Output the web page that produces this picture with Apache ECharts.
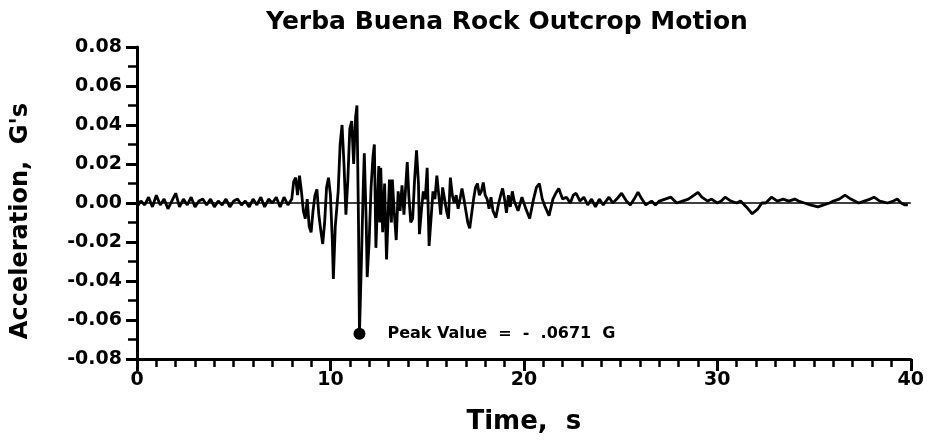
<!DOCTYPE html>
<html>
<head>
<meta charset="utf-8">
<script src="https://cdn.jsdelivr.net/npm/echarts@6/dist/echarts.min.js"></script>
<style>
  html, body { margin: 0; padding: 0; background: #fff; }
  #chart { width: 927px; height: 440px; }
</style>
</head>
<body>
<div id="chart"></div>
<script>
// time (s) and acceleration (G)
var times = [
  0, 0.2, 0.4, 0.6, 0.8, 1.0, 1.2, 1.4, 1.6, 1.8, 2.0, 2.2, 2.4, 2.6, 2.8, 3.0, 3.2, 3.4, 3.6, 3.8,
  4.0, 4.2, 4.4, 4.6, 4.8, 5.0, 5.2, 5.4, 5.6, 5.8, 6.0, 6.2, 6.4, 6.6, 6.8, 7.0, 7.2, 7.4, 7.6, 7.8,
  8.0, 8.1, 8.2, 8.3, 8.4, 8.5, 8.6, 8.7, 8.8, 8.9, 9.0, 9.1, 9.2, 9.3, 9.4, 9.5, 9.6, 9.7, 9.8, 9.9,
  10.0, 10.1, 10.15, 10.25, 10.4, 10.5, 10.6, 10.7, 10.8, 10.9, 11.0, 11.1, 11.2, 11.3, 11.37, 11.45, 11.5, 11.6, 11.7, 11.75,
  11.85, 11.9, 12.0, 12.1, 12.2, 12.27, 12.35, 12.45, 12.5, 12.55, 12.6, 12.7, 12.8, 12.9, 12.95, 13.05, 13.15, 13.2, 13.3, 13.4,
  13.5, 13.6, 13.7, 13.8, 13.9, 13.97, 14.05, 14.15, 14.25, 14.35, 14.45, 14.55, 14.6, 14.7, 14.8, 14.9, 15.0, 15.1, 15.2, 15.3,
  15.4, 15.5, 15.6, 15.7, 15.8, 15.9, 16.0, 16.1, 16.2, 16.3, 16.4, 16.5, 16.6, 16.7, 16.8, 16.9, 17.0, 17.1, 17.2, 17.3,
  17.4, 17.5, 17.6, 17.7, 17.8, 17.9, 18.0, 18.1, 18.2, 18.3, 18.4, 18.55, 18.7, 18.8, 18.9, 19.0, 19.1, 19.2, 19.3, 19.4,
  19.5, 19.7, 19.9, 20.1, 20.3, 20.5, 20.65, 20.8, 20.95, 21.1, 21.3, 21.5, 21.65, 21.8, 22.0, 22.2, 22.4, 22.55, 22.7, 22.9,
  23.1, 23.3, 23.5, 23.7, 23.9, 24.1, 24.4, 24.6, 24.8, 25.05, 25.3, 25.5, 25.7, 25.9, 26.1, 26.3, 26.6, 26.8, 27.0, 27.3,
  27.6, 27.9, 28.2, 28.5, 28.8, 29.0, 29.2, 29.5, 29.7, 30.0, 30.2, 30.4, 30.7, 31.0, 31.2, 31.5, 31.8, 32.1, 32.3, 32.5,
  32.8, 33.1, 33.4, 33.7, 34.0, 34.2, 34.5, 34.8, 35.2, 35.5, 35.8, 36.0, 36.3, 36.6, 36.9, 37.3, 37.6, 37.9, 38.1, 38.4,
  38.8, 39.1, 39.3, 39.5, 39.7, 39.85
];
var accel = [
  -0.002, 0.001, -0.001, 0.003, -0.002, 0.004, -0.001, 0.002, -0.003, 0.001, 0.005, -0.002, 0.002, -0.001, 0.003, -0.002, 0.001, 0.002, -0.001, 0.002,
  -0.002, 0.001, -0.001, 0.002, -0.002, 0.001, 0.002, -0.001, 0.001, -0.002, 0.002, -0.001, 0.003, -0.002, 0.002, 0.000, 0.003, -0.002, 0.003, -0.001,
  0.002, 0.011, 0.013, 0.004, 0.014, 0.006, -0.004, -0.008, 0.002, -0.012, -0.015, -0.004, 0.004, 0.007, -0.006, -0.014, -0.021, -0.010, 0.008, 0.013,
  0.004, -0.020, -0.039, -0.012, 0.006, 0.030, 0.040, 0.020, -0.006, 0.012, 0.038, 0.042, 0.020, 0.044, 0.050, -0.010, -0.0671, -0.030, 0.010, 0.0255,
  -0.010, -0.038, -0.020, 0.008, 0.024, 0.030, -0.023, 0.006, 0.019, -0.010, 0.018, -0.015, 0.010, -0.029, -0.028, 0.012, -0.010, 0.012, -0.005, -0.019,
  0.006, -0.004, 0.009, -0.006, 0.010, 0.021, 0.004, -0.010, -0.008, 0.012, 0.027, 0.010, -0.016, -0.004, 0.006, 0.002, 0.018, -0.022, -0.008, 0.006,
  0.002, 0.014, 0.004, -0.006, 0.008, 0.002, -0.004, -0.008, 0.013, 0.004, 0.000, 0.004, -0.003, 0.002, 0.0075, 0.002, -0.004, -0.010, -0.013, -0.0125,
  0.002, 0.008, 0.010, 0.004, 0.006, 0.0105, 0.004, 0.002, -0.003, 0.003, -0.004, -0.0075, 0.000, 0.004, 0.0075, 0.002, -0.005, 0.004, -0.002, 0.006,
  0.001, -0.004, 0.003, -0.003, -0.008, 0.002, 0.008, 0.010, 0.002, -0.002, -0.0065, 0.002, 0.005, 0.0075, 0.002, 0.003, 0.000, 0.004, 0.005, 0.001,
  0.003, -0.001, 0.002, -0.002, 0.002, -0.001, 0.003, 0.000, 0.002, 0.005, 0.001, -0.001, 0.002, 0.0055, 0.002, -0.001, 0.001, -0.001, 0.001, 0.002,
  0.003, 0.000, 0.001, 0.002, 0.004, 0.0055, 0.003, 0.001, 0.002, 0.000, 0.001, 0.003, 0.001, 0.000, 0.001, -0.002, -0.0055, -0.003, 0.000, 0.000,
  0.003, 0.001, 0.002, 0.001, 0.002, 0.001, 0.000, -0.001, -0.002, -0.001, 0.000, 0.001, 0.002, 0.004, 0.002, 0.000, 0.001, 0.002, 0.003, 0.001,
  0.000, 0.001, 0.002, 0.000, -0.001, -0.001
];
var peakTime = 11.5;
var peakValue = -0.0671;
var peakText = 'Peak Value  =  -  .0671  G';

var chartTitle = 'Yerba Buena Rock Outcrop Motion';
var xName = 'Time,  s';
var yName = "Acceleration,  G's";

var trace = times.map(function (t, i) { return [t, accel[i]]; });

var myChart = echarts.init(document.getElementById('chart'), null, { renderer: 'canvas' });
var font = 'DejaVu Sans';

myChart.setOption({
  animation: false,
  backgroundColor: '#fff',
  title: {
    text: chartTitle,
    left: 502,
    top: 5,
    textAlign: 'center',
    textStyle: { fontFamily: font, fontWeight: 'bold', fontSize: 25, color: '#000' }
  },
  grid: { left: 137, right: 15, top: 47, bottom: 81 },
  xAxis: {
    type: 'value',
    min: 0, max: 40, interval: 10,
    name: xName,
    nameLocation: 'middle',
    nameGap: 50,
    nameTextStyle: { fontFamily: font, fontWeight: 'bold', fontSize: 26, color: '#000' },
    axisLine: { onZero: false, lineStyle: { color: '#000', width: 3 } },
    axisTick: { length: 12, lineStyle: { color: '#000', width: 3 } },
    minorTick: { show: true, splitNumber: 10, length: 8, lineStyle: { color: '#000', width: 2.5 } },
    axisLabel: { fontFamily: font, fontWeight: 'bold', fontSize: 19, color: '#000', margin: 12 },
    splitLine: { show: false }
  },
  yAxis: {
    type: 'value',
    min: -0.08, max: 0.08, interval: 0.02,
    name: yName,
    nameLocation: 'middle',
    nameGap: 104,
    nameTextStyle: { fontFamily: font, fontWeight: 'bold', fontSize: 24, color: '#000', padding: [0, 36, 0, 0] },
    axisLine: { onZero: false, lineStyle: { color: '#000', width: 3 } },
    axisTick: { length: 11, lineStyle: { color: '#000', width: 3 } },
    minorTick: { show: true, splitNumber: 2, length: 9, lineStyle: { color: '#000', width: 2.5 } },
    axisLabel: {
      fontFamily: font, fontWeight: 'bold', fontSize: 19, color: '#000', margin: 15,
      formatter: function (v) { return v.toFixed(2); }
    },
    splitLine: { show: false }
  },
  series: [
    {
      type: 'line',
      data: trace,
      showSymbol: false,
      lineStyle: { color: '#000', width: 2.8 },
      markLine: {
        silent: true,
        symbol: 'none',
        label: { show: false },
        lineStyle: { color: '#000', width: 1.5, type: 'solid' },
        data: [{ yAxis: 0 }]
      }
    },
    {
      type: 'scatter',
      data: [[peakTime, peakValue]],
      symbol: 'circle',
      symbolSize: 12,
      itemStyle: { color: '#000', opacity: 1 },
      label: {
        show: true,
        position: 'right',
        distance: 22,
        formatter: peakText,
        fontFamily: font, fontWeight: 'bold', fontSize: 16, color: '#000'
      }
    }
  ]
});
</script>
</body>
</html>
